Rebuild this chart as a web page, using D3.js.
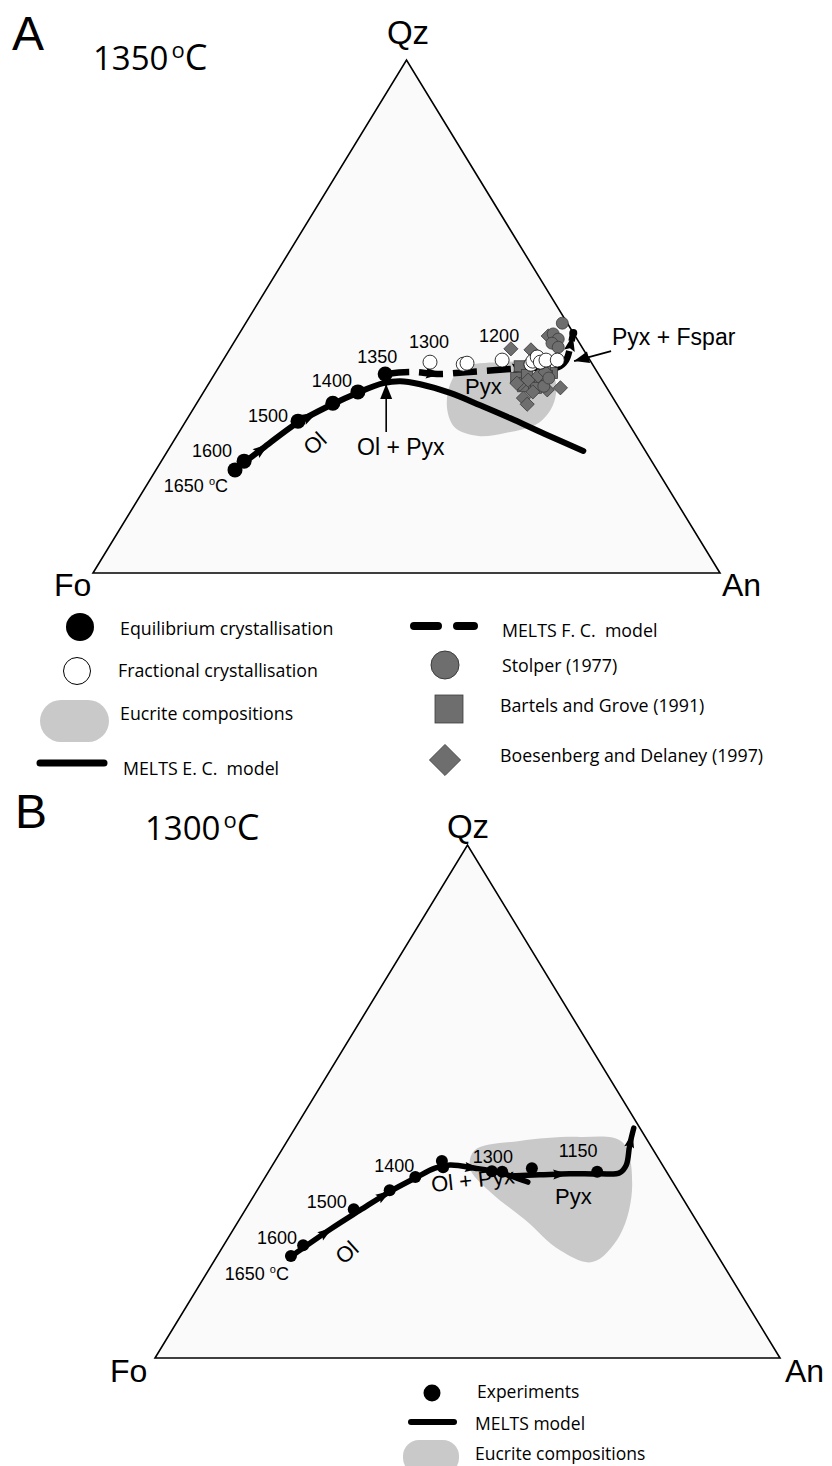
<!DOCTYPE html>
<html><head><meta charset="utf-8">
<script src="https://cdn.jsdelivr.net/npm/d3@7"></script>
<style>body{margin:0;background:#fff}svg{display:block}</style>
</head><body>
<svg id="c" width="832" height="1466"></svg>
<script>
// ---------------- DATA (ternary compositions, [Fo, An, Qz] in %) ----------------
const vertexNames = ["Fo", "An", "Qz"];
const panelLetters = ["A", "B"];
const panelTemps = ["1350", "1300"];

// Panel A
const ecPointsA = [[67.3,12.6,20.1],[65.0,13.2,21.8],[52.5,17.9,29.6],[45.2,21.7,33.1],[40.1,24.6,35.3],[34.0,27.2,38.8]];
const ecModelA = [[67.7,12.4,19.9],[60.3,15.1,24.6],[52.9,17.9,29.2],[45.8,21.5,32.7],[40.3,24.6,35.1],[35.2,27.8,37.0],[32.3,30.3,37.4],[29.4,33.8,36.8],[25.5,39.4,35.1],[21.9,45.4,32.7],[18.4,51.4,30.2],[14.4,58.5,27.1],[9.9,66.3,23.8]];
const fcModelA = [[34.0,27.2,38.8],[29.8,31.0,39.2],[25.3,35.9,38.8],[20.3,40.5,39.2],[15.3,45.1,39.6],[10.3,49.7,40.0],[5.8,54.1,40.1],[3.8,54.7,41.5],[1.9,54.1,44.0],[0.0,53.2,46.8]];
const fcPointsA = [[25.7,33.2,41.1],[20.6,38.7,40.7],[19.9,39.2,40.9],[14.0,44.5,41.5],[9.8,49.5,40.7],[9.2,49.5,41.3],[8.1,49.8,42.1],[8.1,50.8,41.1],[7.0,51.5,41.5],[5.2,53.3,41.5]];
const stolper = [[0.8,50.5,48.7],[3.3,50.1,46.6],[3.0,51.4,45.6],[4.4,50.8,44.8],[3.8,52.2,44.0],[9.9,53.7,36.4],[8.3,53.7,38.0]];
const bartelsGrove = [[11.8,47.9,40.3],[13.5,48.5,38.0],[11.5,49.9,38.6],[11.5,51.5,37.0],[10.0,52.6,37.4],[7.3,53.7,39.0],[8.4,53.2,38.4],[13.2,50.4,36.4],[11.3,52.6,36.1],[7.9,52.1,40.0]];
const boesenberg = [[11.5,44.8,43.7],[4.3,49.5,46.2],[8.4,48.1,43.5],[9.8,51.8,38.4],[13.5,49.7,36.8],[12.2,52.5,35.3],[9.7,54.6,35.7],[14.3,51.6,34.1],[14.3,52.8,32.9],[7.4,56.5,36.1],[13.9,49.1,37.0],[8.3,52.5,39.2],[11.8,50.6,37.6]];
const eucriteA = [[21.1,38.9,40.0],[14.5,44.4,41.1],[7.7,51.8,40.5],[7.6,55.2,37.2],[10.3,57.0,32.7],[14.4,56.4,29.2],[20.6,52.1,27.3],[25.2,48.1,26.7],[28.1,43.6,28.3],[27.6,40.6,31.8],[24.8,38.6,36.6]];
const tempsA = ["1650","1600","1500","1400","1350","1300","1200"];

// Panel B
const expB = [[68.3,11.8,19.9],[65.3,12.7,22.0],[53.7,17.3,29.0],[46.1,21.2,32.7],[40.7,24.0,35.3],[34.9,26.7,38.4],[35.3,27.5,37.2],[27.9,35.7,36.4],[26.3,37.4,36.3],[21.2,41.8,37.0],[11.1,52.6,36.3]];
const meltsB1 = [[68.5,11.8,19.7],[59.4,15.5,25.1],[52.8,18.4,28.8],[46.1,21.4,32.5],[40.8,24.1,35.1],[36.7,26.3,37.0],[34.0,28.4,37.6],[30.3,32.7,37.0],[26.7,37.2,36.1],[23.2,42.5,34.3]];
const meltsB2 = [[25.5,39.0,35.5],[20.6,43.7,35.7],[15.7,48.4,35.9],[10.9,53.2,35.9],[7.6,56.3,36.1],[5.8,56.6,37.6],[3.3,55.2,41.5],[1.0,54.2,44.8]];
const eucriteB = [[28.6,30.9,40.5],[20.5,37.2,42.3],[10.5,46.4,43.1],[4.2,53.7,42.1],[6.8,59.5,33.7],[13.6,62.4,24.0],[20.7,60.6,18.7],[24.7,54.3,21.0],[27.3,45.8,26.9],[30.2,37.4,32.4],[31.1,31.9,37.0]];
const tempsB = ["1650","1600","1500","1400","1300","1150"];

const legendA1 = ["Equilibrium crystallisation","Fractional crystallisation","Eucrite compositions","MELTS E. C.  model"];
const legendA2 = ["MELTS F. C.  model","Stolper (1977)","Bartels and Grove (1991)","Boesenberg and Delaney (1997)"];
const legendB = ["Experiments","MELTS model","Eucrite compositions"];

// ---------------- DRAWING ----------------
const svg = d3.select("#c");
const HELV = "'Liberation Sans', Arial, Helvetica, sans-serif";
const CAL = "'Open Sans', Lato, sans-serif";
const GRAY = "#6e6e6e", GRAYS = "#3c3c3c", EUC = "#c9c9c9";

function makeProj(x0, x1, yb, yt) {
  const xs = d3.scaleLinear().domain([0, 100]).range([x0, x1]);
  const ys = d3.scaleLinear().domain([0, 100]).range([yb, yt]);
  return d => [xs(d[1] + d[2] / 2), ys(d[2])];
}
const pA = makeProj(93, 720, 573, 60);
const pB = makeProj(155, 780, 1358, 845);

function triangle(p) {
  const v = [[100,0,0],[0,100,0],[0,0,100]].map(p);
  svg.append("path").attr("d", "M" + v.join("L") + "Z")
    .attr("fill", "#fafafa").attr("stroke", "#000").attr("stroke-width", 1.6).attr("stroke-linejoin","miter");
  return v;
}
function lineGen(p, curve) { return d3.line().x(d => p(d)[0]).y(d => p(d)[1]).curve(curve || d3.curveCatmullRom.alpha(0.5)); }
function arrowHead(p, pts, i, t, L, W) {
  const a = p(pts[i]), b = p(pts[i + 1]);
  const x = a[0] + (b[0] - a[0]) * t, y = a[1] + (b[1] - a[1]) * t;
  const ang = Math.atan2(b[1] - a[1], b[0] - a[0]) * 180 / Math.PI;
  svg.append("path").attr("d", `M${L/2},0L${-L/2},${-W/2}L${-L/3},0L${-L/2},${W/2}Z`)
    .attr("transform", `translate(${x},${y}) rotate(${ang})`).attr("fill", "#000");
}
function annotArrow(x1, y1, x2, y2) {
  svg.append("line").attr("x1", x1).attr("y1", y1).attr("x2", x2).attr("y2", y2).attr("stroke", "#000").attr("stroke-width", 1.6);
  const ang = Math.atan2(y2 - y1, x2 - x1) * 180 / Math.PI;
  svg.append("path").attr("d", "M0,0L-15,-6L-15,6Z").attr("transform", `translate(${x2},${y2}) rotate(${ang})`).attr("fill", "#000");
}
function tempLabel(x, y, t, anchor, unit, size) {
  const tx = svg.append("text").attr("x", x).attr("y", y).attr("text-anchor", anchor)
    .attr("font-family", HELV).attr("font-size", size || 18).attr("fill", "#000");
  tx.append("tspan").text(t);
  if (unit) {
    tx.append("tspan").text(" ");
    tx.append("tspan").attr("font-size", 11).attr("dy", -7).text("o");
    tx.append("tspan").attr("dy", 7).text("C");
  }
}
function txt(x, y, t, size, fam, opts) {
  opts = opts || {};
  const e = svg.append("text").attr("x", x).attr("y", y).attr("font-size", size).attr("font-family", fam)
    .attr("fill", "#000").attr("text-anchor", opts.anchor || "start").style("white-space", "pre").text(t);
  if (opts.rotate !== undefined) e.attr("transform", `rotate(${opts.rotate},${x},${y})`);
  return e;
}
function title(x, y, t) {
  const e = svg.append("text").attr("x", x).attr("y", y).attr("font-family", CAL).attr("font-size", 33).attr("fill", "#000");
  e.append("tspan").text(t);
  e.append("tspan").attr("dx", 3).attr("font-size", 22).attr("dy", -12).text("o");
  e.append("tspan").attr("dy", 12).attr("font-size", 36).text("C");
}
function square(cx, cy, s, rot) {
  return svg.append("rect").attr("x", -s/2).attr("y", -s/2).attr("width", s).attr("height", s)
    .attr("transform", `translate(${cx},${cy}) rotate(${rot||0})`).attr("fill", GRAY).attr("stroke", GRAYS).attr("stroke-width", 0.8);
}

// ===== Panel A =====
txt(12, 50, panelLetters[0], 48, HELV);
title(93, 70, panelTemps[0]);
triangle(pA);
txt(408, 44, vertexNames[2], 33, HELV, {anchor: "middle"});
txt(54, 596, vertexNames[0], 32, HELV);
txt(722, 596, vertexNames[1], 32, HELV);

svg.append("path").attr("d", lineGen(pA, d3.curveCatmullRomClosed.alpha(0.5))(eucriteA)).attr("fill", EUC);
svg.append("path").attr("d", lineGen(pA)(ecModelA)).attr("fill", "none").attr("stroke", "#000").attr("stroke-width", 6).attr("stroke-linecap", "round");
svg.append("path").attr("d", lineGen(pA)(fcModelA)).attr("fill", "none").attr("stroke", "#000").attr("stroke-width", 6.5)
  .attr("stroke-dasharray", "24,10").attr("stroke-linecap", "butt");
arrowHead(pA, ecModelA, 0, 0.92, 16, 11);
arrowHead(pA, ecModelA, 2, 0.4, 16, 11);
arrowHead(pA, fcModelA, 1, 0.8, 16, 11);
arrowHead(pA, fcModelA, 4, 0.67, 16, 11);
arrowHead(pA, fcModelA, 8, 0.3, 16, 11);
{ const e = pA(fcModelA[fcModelA.length - 1]); svg.append("circle").attr("cx", e[0]).attr("cy", e[1]).attr("r", 4).attr("fill", "#000"); }

svg.append("g").selectAll("rect").data(bartelsGrove).join("rect")
  .attr("x", d => pA(d)[0] - 5.5).attr("y", d => pA(d)[1] - 5.5).attr("width", 11).attr("height", 11)
  .attr("fill", GRAY).attr("stroke", GRAYS).attr("stroke-width", 0.8);
svg.append("g").selectAll("rect").data(boesenberg).join("rect")
  .attr("x", -5).attr("y", -5).attr("width", 10).attr("height", 10)
  .attr("transform", d => `translate(${pA(d)[0]},${pA(d)[1]}) rotate(45)`)
  .attr("fill", GRAY).attr("stroke", GRAYS).attr("stroke-width", 0.8);
svg.append("g").selectAll("circle").data(stolper).join("circle")
  .attr("cx", d => pA(d)[0]).attr("cy", d => pA(d)[1]).attr("r", 6)
  .attr("fill", GRAY).attr("stroke", GRAYS).attr("stroke-width", 0.8);
svg.append("g").selectAll("circle").data(ecPointsA).join("circle")
  .attr("cx", d => pA(d)[0]).attr("cy", d => pA(d)[1]).attr("r", 7.5).attr("fill", "#000");
svg.append("g").selectAll("circle").data(fcPointsA).join("circle")
  .attr("cx", d => pA(d)[0]).attr("cy", d => pA(d)[1]).attr("r", 7)
  .attr("fill", "#fff").attr("stroke", "#000").attr("stroke-width", 0.8);

// temperature labels A
const tlA = [[ecPointsA,0,-7,22,"end"],[ecPointsA,1,-12,-4,"end"],[ecPointsA,2,-10,1,"end"],[ecPointsA,4,-6,-5,"end"],
             [ecPointsA,5,-8,-11,"middle"],[fcPointsA,0,-1,-14,"middle"],[fcPointsA,3,-3,-18,"middle"]];
tlA.forEach((l, k) => { const q = pA(l[0][l[1]]); tempLabel(q[0] + l[2], q[1] + l[3], tempsA[k], l[4], k === 0); });

txt(320, 449, "Ol", 22, HELV, {anchor: "middle", rotate: -42});
txt(357, 455, "Ol + Pyx", 23, HELV);
txt(465, 394, "Pyx", 22, HELV);
txt(612, 345, "Pyx + Fspar", 23, HELV);
{ const q = pA(ecPointsA[5]); annotArrow(q[0] + 1, q[1] + 58, q[0] + 1, q[1] + 10); }
{ const q = pA(fcModelA[7]); annotArrow(q[0] + 45, q[1] - 9, q[0] + 8, q[1] + 1); }

// Legend A
svg.append("circle").attr("cx", 80).attr("cy", 627).attr("r", 14).attr("fill", "#000");
svg.append("circle").attr("cx", 77).attr("cy", 671).attr("r", 13.5).attr("fill", "#fff").attr("stroke", "#000").attr("stroke-width", 1);
svg.append("rect").attr("x", 40).attr("y", 700).attr("width", 69).attr("height", 42).attr("rx", 21).attr("fill", EUC);
svg.append("line").attr("x1", 40).attr("x2", 104).attr("y1", 763).attr("y2", 763).attr("stroke", "#000").attr("stroke-width", 7).attr("stroke-linecap", "round");
[[120,635],[118,677],[120,720],[123,775]].forEach((p, i) => txt(p[0], p[1], legendA1[i], 17.8, CAL));
svg.append("line").attr("x1", 414).attr("x2", 474).attr("y1", 626).attr("y2", 626).attr("stroke", "#000").attr("stroke-width", 8)
  .attr("stroke-linecap", "round").attr("stroke-dasharray", "24,19");
svg.append("circle").attr("cx", 445).attr("cy", 665).attr("r", 14).attr("fill", GRAY).attr("stroke", GRAYS).attr("stroke-width", 1);
square(449, 709, 28, 0);
square(445, 760, 22, 45);
[[502,637],[502,672],[500,712],[500,762]].forEach((p, i) => txt(p[0], p[1], legendA2[i], 17.8, CAL));

// ===== Panel B =====
txt(15, 828, panelLetters[1], 48, HELV);
title(145, 840, panelTemps[1]);
triangle(pB);
txt(468, 838, vertexNames[2], 33, HELV, {anchor: "middle"});
txt(110, 1382, vertexNames[0], 32, HELV);
txt(785, 1382, vertexNames[1], 32, HELV);

svg.append("path").attr("d", lineGen(pB, d3.curveCatmullRomClosed.alpha(0.5))(eucriteB)).attr("fill", EUC);
[meltsB1, meltsB2].forEach(m => svg.append("path").attr("d", lineGen(pB)(m)).attr("fill", "none")
  .attr("stroke", "#000").attr("stroke-width", 5.5).attr("stroke-linecap", "round"));
arrowHead(pB, meltsB1, 0, 0.9, 15, 10);
arrowHead(pB, meltsB1, 2, 0.8, 15, 10);
arrowHead(pB, meltsB1, 6, 0.9, 15, 10);
arrowHead(pB, meltsB2, 1, 0.7, 15, 10);
arrowHead(pB, meltsB2, 6, 0.3, 15, 10);
svg.append("g").selectAll("circle").data(expB).join("circle")
  .attr("cx", d => pB(d)[0]).attr("cy", d => pB(d)[1]).attr("r", 6).attr("fill", "#000");

const tlB = [[0,-2,24,"end"],[1,-6,-1,"end"],[2,-7,-1,"end"],[4,-1,-5,"end"],[7,1,-8,"middle"],[10,-19,-15,"middle"]];
tlB.forEach((l, k) => { const q = pB(expB[l[0]]); tempLabel(q[0] + l[1], q[1] + l[2], tempsB[k], l[3], k === 0); });

txt(352, 1258, "Ol", 22, HELV, {anchor: "middle", rotate: -42});
txt(432, 1192, "Ol + Pyx", 22, HELV, {rotate: -6});
txt(555, 1204, "Pyx", 22, HELV);

// Legend B
svg.append("circle").attr("cx", 432).attr("cy", 1393).attr("r", 8.5).attr("fill", "#000");
svg.append("line").attr("x1", 411).attr("x2", 454).attr("y1", 1422).attr("y2", 1422).attr("stroke", "#000").attr("stroke-width", 6).attr("stroke-linecap", "round");
svg.append("rect").attr("x", 403).attr("y", 1440).attr("width", 56).attr("height", 34).attr("rx", 16).attr("fill", EUC);
[[477,1398],[475,1430],[475,1460]].forEach((p, i) => txt(p[0], p[1], legendB[i], 17.5, CAL));
</script>
</body></html>
